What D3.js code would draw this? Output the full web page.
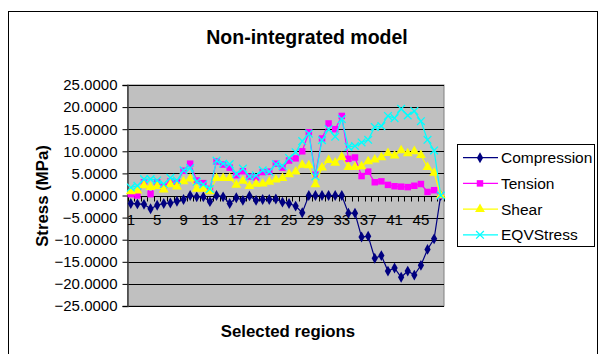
<!DOCTYPE html>
<html>
<head>
<meta charset="utf-8">
<script src="https://cdn.jsdelivr.net/npm/d3@7"></script>
<style>
body { margin: 0; background: #fff; }
text { font-family: Arial, "Liberation Sans", sans-serif; }
</style>
</head>
<body>
<script>
// categories 1..48 (selected regions)
var regions = d3.range(1, 49);
var xTickLabels = [1, 5, 9, 13, 17, 21, 25, 29, 33, 37, 41, 45];
var yTicks = [-25, -20, -15, -10, -5, 0, 5, 10, 15, 20, 25];

var compression = [-1.8, -1.9, -2.0, -3.0, -2.2, -1.8, -1.7, -1.3, -0.9, 0.0,
    -0.3, -0.3, -1.4, 0.0, -0.3, -1.8, -0.5, -1.1, -0.1, -1.1,
    -0.9, -0.9, -0.8, -1.5, -1.8, -2.4, -3.9, 0.0, 0.0, 0.0,
    0.0, 0.0, 0.0, -4.0, -4.0, -9.4, -9.2, -14.2, -13.6, -17.1,
    -16.4, -18.5, -17.1, -18.0, -15.8, -12.2, -9.8, 0.0];
var tension = [0.3, 0.0, 3.0, 0.3, 3.0, 2.0, 3.2, 3.0, 5.6, 7.2,
    3.4, 2.8, 1.5, 7.7, 7.0, 6.3, 4.6, 5.5, 4.3, 4.1,
    5.3, 5.4, 7.2, 6.3, 7.9, 8.4, 10.0, 14.3, 4.7, 12.9,
    16.3, 15.0, 18.0, 8.3, 8.6, 4.4, 5.4, 3.0, 3.2, 2.4,
    2.1, 2.0, 1.9, 2.2, 2.6, 0.8, 1.2, 0.0];
var shear = [0.9, 1.1, 2.3, 1.9, 2.1, 1.3, 2.5, 2.0, 3.2, 3.8,
    1.5, 1.5, 0.9, 3.9, 3.9, 3.9, 2.4, 3.3, 2.1, 2.6,
    2.7, 3.1, 3.6, 3.9, 4.8, 5.4, 6.9, 6.8, 2.5, 6.3,
    8.0, 7.4, 8.7, 6.4, 6.4, 6.6, 7.7, 8.1, 8.6, 9.6,
    9.0, 10.2, 9.5, 10.0, 9.1, 6.4, 5.1, 0.0];
var eqvStress = [1.8, 2.2, 3.7, 3.7, 3.4, 2.6, 4.0, 3.4, 5.7, 6.2,
    3.1, 2.5, 1.5, 7.9, 7.2, 7.1, 4.9, 6.1, 4.3, 4.6,
    5.7, 5.4, 7.1, 6.7, 8.5, 9.8, 12.3, 14.0, 4.3, 12.5,
    15.0, 13.3, 17.3, 11.0, 11.2, 12.0, 12.6, 15.5, 15.7, 18.0,
    17.5, 19.6, 18.1, 19.1, 16.8, 12.6, 10.2, 0.0];

var series = [
    {name: "Compression", values: compression, color: "#000080", symbol: "diamond"},
    {name: "Tension", values: tension, color: "#ff00ff", symbol: "square"},
    {name: "Shear", values: shear, color: "#ffff00", symbol: "triangle"},
    {name: "EQVStress", values: eqvStress, color: "#00ffff", symbol: "cross"}
];

var w = 600, h = 354;
var plot = {left: 127.5, right: 444, top: 85, bottom: 306};

var svg = d3.select("body")
    .append("svg")
    .attr("width", w)
    .attr("height", h);

// outer chart border
svg.append("rect")
    .attr("x", 8.5).attr("y", 11.5)
    .attr("width", 589).attr("height", 360)
    .attr("fill", "#fff")
    .attr("stroke", "#000")
    .attr("stroke-width", 1);

var x = d3.scaleBand()
    .domain(regions)
    .range([plot.left, plot.right]);

var y = d3.scaleLinear()
    .domain([-25, 25])
    .range([plot.bottom, plot.top]);

function cx(i) { return x(regions[i]) + x.bandwidth() / 2; }

// plot area
svg.append("rect")
    .attr("x", plot.left).attr("y", plot.top)
    .attr("width", plot.right - plot.left)
    .attr("height", plot.bottom - plot.top)
    .attr("fill", "#c0c0c0")
    .attr("stroke", "#808080");

// gridlines
svg.append("g")
    .selectAll("line")
    .data(yTicks)
    .enter()
    .append("line")
    .attr("x1", plot.left).attr("x2", plot.right)
    .attr("y1", function (d) { return Math.round(y(d)) + 0.5; })
    .attr("y2", function (d) { return Math.round(y(d)) + 0.5; })
    .attr("stroke", "#000");

// y axis
var yAxis = svg.append("g")
    .attr("transform", "translate(" + plot.left + ",0)")
    .call(d3.axisLeft(y).tickValues(yTicks).tickSize(5).tickPadding(5)
        .tickFormat(d3.format(".4f")));
yAxis.select(".domain").attr("stroke", "#404040").attr("stroke-width", 1.5);
yAxis.selectAll("text")
    .attr("font-size", "15px")
    .attr("fill", "#000");

// category axis crossing at zero
var zeroY = Math.round(y(0)) + 0.5;
var xAxis = svg.append("g")
    .attr("transform", "translate(0," + zeroY + ")");
xAxis.append("line")
    .attr("x1", plot.left).attr("x2", plot.right)
    .attr("stroke", "#000");
xAxis.selectAll(".cat-tick")
    .data(regions.concat([49]))
    .enter()
    .append("line")
    .attr("class", "cat-tick")
    .attr("x1", function (d, i) { return Math.round(plot.left + i * x.bandwidth()) + 0.5; })
    .attr("x2", function (d, i) { return Math.round(plot.left + i * x.bandwidth()) + 0.5; })
    .attr("y1", 0).attr("y2", 5)
    .attr("stroke", "#000");
xAxis.selectAll(".cat-label")
    .data(xTickLabels)
    .enter()
    .append("text")
    .attr("class", "cat-label")
    .attr("x", function (d) { return x(d) + x.bandwidth() / 2; })
    .attr("y", 28)
    .attr("text-anchor", "middle")
    .attr("font-size", "15px")
    .text(function (d) { return d; });

// series
var symbolType = {
    diamond: d3.symbolDiamond,
    square: d3.symbolSquare,
    triangle: d3.symbolTriangle,
    cross: d3.symbolX
};

function marker(sel, s) {
    var sym = d3.symbol().type(symbolType[s.symbol])
        .size(s.symbol === "cross" ? 40 : s.symbol === "diamond" ? 34 : 42);
    sel.attr("d", sym)
        .attr("fill", s.symbol === "cross" ? "none" : s.color)
        .attr("stroke", s.symbol === "cross" ? s.color : "none")
        .attr("stroke-width", 1.3);
}

var line = d3.line()
    .x(function (d, i) { return cx(i); })
    .y(function (d) { return y(d); });

series.forEach(function (s) {
    var g = svg.append("g");
    g.append("path")
        .datum(s.values)
        .attr("d", line)
        .attr("fill", "none")
        .attr("stroke", s.color)
        .attr("stroke-width", 1.2);
    g.selectAll("path.pt")
        .data(s.values)
        .enter()
        .append("path")
        .attr("class", "pt")
        .attr("transform", function (d, i) { return "translate(" + cx(i) + "," + y(d) + ")"; })
        .call(marker, s);
});

// titles
svg.append("text")
    .attr("x", 307).attr("y", 44)
    .attr("text-anchor", "middle")
    .attr("font-size", "19.5px")
    .attr("font-weight", "bold")
    .text("Non-integrated model");

svg.append("text")
    .attr("x", 288).attr("y", 337)
    .attr("text-anchor", "middle")
    .attr("font-size", "16.8px")
    .attr("font-weight", "bold")
    .text("Selected regions");

svg.append("text")
    .attr("transform", "translate(48,196) rotate(-90)")
    .attr("text-anchor", "middle")
    .attr("font-size", "16.8px")
    .attr("font-weight", "bold")
    .text("Stress (MPa)");

// legend
var legend = svg.append("g");
legend.append("rect")
    .attr("x", 457.5).attr("y", 144.5)
    .attr("width", 137).attr("height", 102)
    .attr("fill", "#fff")
    .attr("stroke", "#000");

var items = legend.selectAll("g.item")
    .data(series)
    .enter()
    .append("g")
    .attr("class", "item")
    .attr("transform", function (d, i) { return "translate(0," + (157.7 + i * 25.7) + ")"; });
items.append("line")
    .attr("x1", 463).attr("x2", 498)
    .attr("stroke", function (d) { return d.color; })
    .attr("stroke-width", 1.2);
items.append("path")
    .attr("transform", "translate(480,0)")
    .each(function (d) { d3.select(this).call(marker, d); });
items.append("text")
    .attr("x", 501).attr("y", 5.5)
    .attr("font-size", "15.5px")
    .text(function (d) { return d.name; });
</script>
</body>
</html>
